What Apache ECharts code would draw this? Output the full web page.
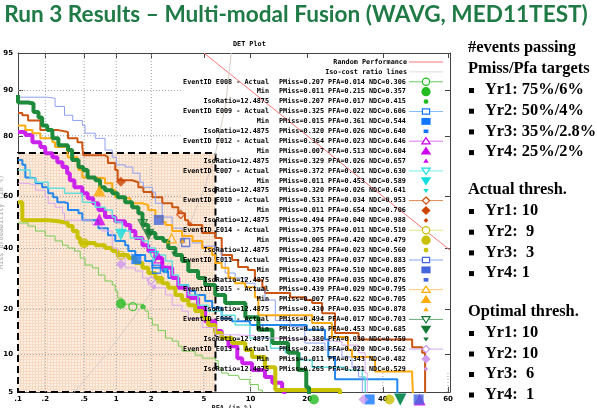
<!DOCTYPE html>
<html><head><meta charset="utf-8">
<script src="https://cdn.jsdelivr.net/npm/echarts@6/dist/echarts.min.js"></script>
<style>html,body{margin:0;padding:0;background:#fff}#c{width:597px;height:408px}</style>
</head><body><div id="c"></div>
<script>
// ---------------- data ----------------
const xTickPct = [0.1,0.2,0.5,1,2,5,10,20,40,60];
const xTickLabels = ['.1','.2','.5','1','2','5','10','20','40','60'];
const yTickPct = [5,10,20,40,60,80,90,95];
const yTickLabels = ['5','10','20','40','60','80','90','95'];

const eventIds    = ['E008','E009','E012','E007','E010','E014','E011','E015','E006','E013'];
const actualPmiss = [0.207,0.325,0.364,0.372,0.531,0.375,0.423,0.439,0.494,0.288];
const actualPfa   = [0.014,0.022,0.023,0.021,0.034,0.011,0.037,0.029,0.017,0.020];
const actualNdc   = [0.306,0.606,0.646,0.630,0.953,0.510,0.883,0.795,0.703,0.562];
const minPmiss    = [0.011,0.015,0.007,0.011,0.011,0.005,0.023,0.007,0.019,0.011];
const minPfa      = [0.215,0.361,0.513,0.453,0.654,0.420,0.510,0.622,0.453,0.343];
const minNdc      = [0.357,0.544,0.604,0.589,0.706,0.479,0.805,0.705,0.685,0.482];
const isoPmiss    = [0.207,0.320,0.329,0.320,0.494,0.284,0.430,0.430,0.380,0.265];
const isoPfa      = [0.017,0.026,0.026,0.026,0.040,0.023,0.035,0.035,0.030,0.021];
const isoNdc      = [0.415,0.640,0.657,0.641,0.988,0.560,0.876,0.878,0.759,0.529];
const isoRatio = 12.4875;

// DET curves: [PFA %, PMiss %]
const curveE008 = [[0.1,49.8],[0.13,48.6],[0.157,46.7],[0.2,44.8],[0.254,42.9],[0.303,41.3],[0.345,40.2],[0.40,39.1],[0.457,36.5],[0.51,34.0],[0.6,33.0],[0.685,30.5],[0.79,28.5],[0.92,27.2],[0.98,25.3],[1.03,23.2],[1.13,21.4],[1.69,20.9],[1.78,19.5],[1.89,17.6],[2.04,16.0],[2.27,14.7],[2.6,13.1],[2.93,12.5],[3.26,11.5],[3.48,10.6],[4.34,9.9],[4.87,9.4],[5.98,9.0],[6.26,7.9],[6.6,7.2],[7.3,6.9],[8.4,6.8],[8.6,6.4],[9.9,5.8],[11.1,5.2],[11.7,4.4]];
const curveE009 = [[0.1,72.8],[0.112,71.2],[0.121,66.9],[0.13,66.6],[0.157,64.8],[0.185,63.4],[0.215,61.2],[0.243,59.7],[0.268,57.8],[0.318,57.4],[0.345,54.8],[0.44,53.6],[0.48,50.9],[0.6,50.9],[0.685,47.8],[0.84,45.1],[0.98,42.9],[1.2,41.3],[1.28,39.1],[1.47,37.6],[1.78,35.4],[2.04,33.0],[2.45,31.9],[2.73,29.5],[3.26,27.2],[3.87,25.3],[4.34,24.1],[5.1,22.3],[5.7,20.4],[6.6,17.6],[7.7,16.9],[9.9,16.0],[19.9,14.9],[24.1,14.9],[24.1,12.8],[24.9,9.6],[26.6,8.0],[26.6,6.4],[44.4,6.4],[44.4,4.4]];
const curveE012 = [[0.1,81.0],[0.121,80.2],[0.145,78.2],[0.177,76.8],[0.2,74.9],[0.238,73.7],[0.268,72.1],[0.303,70.5],[0.338,68.4],[0.36,65.9],[0.40,63.4],[0.48,61.2],[0.54,59.3],[0.61,57.4],[0.685,54.8],[0.79,52.1],[0.98,50.5],[1.2,49.0],[1.33,46.7],[1.47,44.0],[1.69,41.3],[1.89,39.1],[2.16,36.5],[2.45,33.0],[2.93,29.5],[3.26,26.3],[3.87,23.2],[4.55,20.4],[5.1,16.9],[5.98,14.6],[6.6,13.1],[7.3,11.5],[8.3,9.4],[8.9,8.6],[10.2,7.6],[12.1,6.7],[13.3,6.0],[15.0,5.2],[15.4,4.4]];
const curveE007 = [[0.1,69.5],[0.137,66.6],[0.157,65.2],[0.215,63.0],[0.318,61.2],[0.48,57.8],[0.64,55.9],[0.79,54.8],[0.92,52.1],[0.98,50.2],[1.13,46.7],[1.33,44.0],[1.69,42.9],[1.89,40.2],[2.16,37.6],[2.6,35.4],[2.93,30.5],[3.26,27.2],[3.87,24.1],[4.55,21.1],[5.35,19.5],[6.6,18.4],[8.05,16.0],[9.9,13.1],[13.0,11.1],[15.6,10.3],[18.5,9.1],[21.1,8.0],[29.2,7.6],[34.0,6.7],[34.8,4.4]];
const curveE010 = [[0.1,85.6],[0.112,85.1],[0.13,83.9],[0.177,81.5],[0.275,81.0],[0.345,79.3],[0.43,78.2],[0.48,76.8],[0.49,74.3],[0.79,73.7],[0.84,71.8],[0.98,69.5],[1.03,65.9],[1.38,65.2],[1.56,63.4],[1.72,61.6],[2.04,59.7],[2.45,57.4],[2.93,55.9],[3.26,53.6],[3.66,50.9],[3.87,49.0],[4.87,45.9],[5.98,44.0],[6.6,37.6],[7.7,35.8],[8.4,33.3],[9.65,32.2],[10.6,28.8],[11.7,26.5],[12.1,24.7],[16.5,23.4],[19.5,22.6],[21.1,21.7],[23.4,18.9],[26.6,14.2],[32.9,12.8],[40.7,12.8],[49.0,11.3],[52.1,10.3],[53.0,8.0],[53.0,4.4]];
const curveE014 = [[0.1,57.8],[0.112,57.8],[0.112,50.9],[0.177,50.9],[0.215,50.5],[0.275,49.8],[0.345,48.6],[0.385,46.7],[0.43,44.0],[0.457,42.1],[0.64,41.3],[0.79,40.2],[0.92,39.1],[1.03,37.6],[1.28,36.5],[1.47,34.7],[1.69,33.0],[1.89,31.2],[2.16,29.5],[2.45,27.8],[2.73,26.3],[3.1,24.1],[3.48,22.6],[3.87,21.1],[4.34,19.5],[4.87,17.6],[5.35,16.0],[5.98,14.2],[6.6,13.1],[7.7,12.1],[9.3,10.8],[10.2,9.6],[12.1,8.0],[13.8,6.0],[13.8,5.2],[27.9,5.2],[27.9,4.4]];
const curveE011 = [[0.1,88.8],[0.21,88.6],[0.254,87.0],[0.318,85.1],[0.385,83.9],[0.48,82.7],[0.51,80.7],[0.64,79.3],[0.79,75.9],[0.92,73.7],[1.0,71.2],[1.2,70.5],[1.4,68.4],[1.61,65.2],[1.72,63.4],[2.04,61.6],[2.16,57.4],[2.45,52.1],[2.93,47.8],[3.48,44.8],[4.15,42.1],[4.87,40.9],[5.98,39.5],[6.6,36.5],[6.95,31.2],[8.05,29.5],[9.3,27.8],[10.6,25.6],[12.1,22.6],[13.8,17.1],[16.5,15.6],[19.5,12.1],[24.1,10.8],[28.4,9.6],[31.1,8.0],[32.9,6.7],[34.0,4.4]];
const curveE015 = [[0.1,82.7],[0.121,81.5],[0.145,80.7],[0.177,79.3],[0.238,78.2],[0.254,76.8],[0.338,75.9],[0.345,73.7],[0.43,71.8],[0.44,69.5],[0.48,66.9],[0.6,66.6],[0.79,64.8],[0.92,62.3],[0.98,59.7],[1.13,59.3],[1.33,57.4],[1.69,56.7],[1.89,54.8],[2.16,52.1],[2.45,50.2],[2.6,49.0],[2.93,46.7],[3.48,44.8],[4.15,42.9],[4.87,40.2],[5.7,37.6],[5.98,34.7],[6.6,33.0],[7.3,29.5],[8.05,27.8],[9.3,26.5],[10.6,23.4],[11.1,18.4],[20.0,18.4],[21.1,16.5],[25.8,13.3],[30.0,10.8],[31.1,9.6],[36.8,9.1],[37.7,7.4],[49.0,6.7],[49.3,4.4]];
const curveE006 = [[0.1,89.2],[0.1,87.8],[0.13,87.6],[0.149,85.8],[0.169,84.6],[0.185,82.7],[0.21,81.5],[0.238,79.3],[0.275,77.3],[0.345,75.9],[0.38,72.8],[0.44,70.5],[0.49,69.5],[0.54,66.9],[0.64,65.9],[0.71,63.4],[0.79,62.3],[0.92,61.2],[1.03,59.7],[1.2,57.8],[1.38,55.9],[1.56,53.6],[1.69,50.2],[1.72,49.0],[1.89,45.9],[2.16,44.0],[2.5,42.9],[2.73,40.2],[3.1,37.6],[3.48,35.4],[3.87,31.9],[4.55,29.5],[5.1,27.2],[5.98,24.1],[6.95,21.7],[9.3,17.9],[11.1,14.9],[13.3,12.1],[16.1,10.3],[18.1,7.6],[19.8,5.5],[20.4,4.4]];
const curveE013 = [[0.1,64.8],[0.13,64.1],[0.157,62.3],[0.2,59.7],[0.215,57.4],[0.254,55.9],[0.303,53.6],[0.318,50.9],[0.51,50.9],[0.6,49.0],[0.74,46.7],[0.92,40.2],[1.03,36.5],[1.2,33.0],[1.47,31.9],[1.69,29.5],[1.89,27.2],[2.16,26.3],[2.6,24.1],[2.93,21.1],[3.48,19.5],[3.87,17.6],[4.87,15.4],[5.98,13.8],[7.7,13.6],[10.6,13.1],[15.0,12.8],[20.0,12.4],[28.4,11.7],[32.9,10.3],[34.8,7.2],[35.4,4.4]];

const randomPfa = [5, 60.6];
const isoLinePfa = [0.38,0.5,0.7,1,1.5,2,3,4,5,6,7,7.61];
const targetPmiss = 75, targetPfa = 6;

const targetLabels  = ['Yr1: 75%/6%','Yr2: 50%/4%','Yr3: 35%/2.8%','Yr4: 25%/2%'];
const actualThresh  = ['Yr1: 10','Yr2:  9','Yr3:  3','Yr4: 1'];
const optimalThresh = ['Yr1: 10','Yr2: 10','Yr3:  6','Yr4:  1'];

// ---------------- styles ----------------
const curves = [curveE008,curveE009,curveE012,curveE007,curveE010,curveE014,curveE011,curveE015,curveE006,curveE013];
const curveColors  = ['#77cc55','#2288ee','#cc22ee','#66dddd','#cc5511','#c8c200','#8fa0ee','#ffaa11','#1e8a3c','#d8a8f0'];
const curveWidths  = [1,2,4,1.5,2,4,1,2,4,1];
const markerColors = ['#22bb22','#1177ff','#cc00ee','#11dddd','#cc4400','#c8c000','#4466dd','#ffaa00','#117733','#cc99ee'];
const legendLineColors = ['#66cc66','#88bbff','#dd77ff','#77eeee','#dd8855','#e6e680','#88aaee','#ffcc77','#66aa77','#ccaaee'];
const shapes = ['circle','rect','triangle','down','diamond','circle','rect','triangle','down','diamond'];

function probit(p){
  const a=[-3.969683028665376e+01,2.209460984245205e+02,-2.759285104469687e+02,1.383577518672690e+02,-3.066479806614716e+01,2.506628277459239e+00];
  const b=[-5.447609879822406e+01,1.615858368580409e+02,-1.556989798598866e+02,6.680131188771972e+01,-1.328068155288572e+01];
  const c=[-7.784894002430293e-03,-3.223964580411365e-01,-2.400758277161838e+00,-2.549732539343734e+00,4.374664141464968e+00,2.938163982698783e+00];
  const d=[7.784695709041462e-03,3.224671290700398e-01,2.445134137142996e+00,3.754408661907416e+00];
  const pl=0.02425, ph=1-pl; let q,r;
  if(p<pl){q=Math.sqrt(-2*Math.log(p));return (((((c[0]*q+c[1])*q+c[2])*q+c[3])*q+c[4])*q+c[5])/((((d[0]*q+d[1])*q+d[2])*q+d[3])*q+1);}
  if(p<=ph){q=p-0.5;r=q*q;return (((((a[0]*r+a[1])*r+a[2])*r+a[3])*r+a[4])*r+a[5])*q/(((((b[0]*r+b[1])*r+b[2])*r+b[3])*r+b[4])*r+1);}
  q=Math.sqrt(-2*Math.log(1-p));return -(((((c[0]*q+c[1])*q+c[2])*q+c[3])*q+c[4])*q+c[5])/((((d[0]*q+d[1])*q+d[2])*q+d[3])*q+1);
}
const T = pct => probit(pct/100);
const P = (pfa, pmiss) => [T(pfa), T(pmiss)];
const XMIN = 0.1, XMAX = 60.6, YMIN = 5, YMAX = 95;
const keyPfa = 3.4, keyPmiss = 7.2;   // legend box (grid lines skip it)
const bottomPmiss = 4.3;              // clipped display row for off-range points

function fmtLookup(pcts, labels){
  return v => { const i = pcts.findIndex(p => Math.abs(T(p) - v) < 1e-6); return i >= 0 ? labels[i] : ''; };
}
const symOf = s => s === 'down' ? 'triangle' : s;
const rotOf = s => s === 'down' ? 180 : 0;

// pattern for shaded target region
const pc = document.createElement('canvas'); pc.width = 3; pc.height = 3;
const pctx = pc.getContext('2d');
pctx.fillStyle = '#fdeee2'; pctx.fillRect(0,0,3,3);
pctx.fillStyle = '#f8d9c2'; pctx.fillRect(0,2,3,1); pctx.fillRect(2,0,1,3);

const axisFont = {fontSize:7, fontWeight:'bold', fontFamily:'DejaVu Sans', color:'#000'};
function mkX(pos, showLabel){
  return {type:'value', position:pos, min:T(XMIN), max:T(XMAX),
    axisLine:{show:true, onZero:false, lineStyle:{color:'#444', width:1}},
    axisTick:{show:true, inside:true, length:5, customValues:xTickPct.map(T), lineStyle:{color:'#444'}},
    axisLabel:Object.assign({show:showLabel, customValues:xTickPct.map(T), formatter:fmtLookup(xTickPct,xTickLabels), margin:4}, axisFont),
    splitLine:{show:false}};
}
function mkY(pos, showLabel){
  return {type:'value', position:pos, min:T(YMIN), max:T(YMAX),
    axisLine:{show:true, onZero:false, lineStyle:{color:'#444', width:1}},
    axisTick:{show:true, inside:true, length:5, customValues:yTickPct.map(T), lineStyle:{color:'#444'}},
    axisLabel:Object.assign({show:showLabel, customValues:yTickPct.map(T), formatter:fmtLookup(yTickPct,yTickLabels), margin:5}, axisFont),
    splitLine:{show:false}};
}

const series = [];
// target region
series.push({type:'line', data:[], silent:true, z:1, symbol:'none',
  markArea:{silent:true, itemStyle:{color:{image:pc, repeat:'repeat'}, borderColor:'#000', borderWidth:2, borderType:[7,4]},
    data:[[{coord:P(XMIN,YMIN)},{coord:P(targetPfa,targetPmiss)}]]}});
// grid lines
const gridStyle = {color:'#a0a0a0', width:1, type:[1,2]};
xTickPct.slice(1).forEach(p => {
  const top = p < keyPfa ? YMAX : keyPmiss;
  series.push({type:'line', silent:true, z:2, symbol:'none', data:[P(p,YMIN),P(p,top)], lineStyle:gridStyle});
});
yTickPct.slice(1,-1).forEach(p => {
  const right = p > keyPmiss ? keyPfa : XMAX;
  series.push({type:'line', silent:true, z:2, symbol:'none', data:[P(XMIN,p),P(right,p)], lineStyle:gridStyle});
});
// random performance & iso-cost line
series.push({type:'line', silent:true, z:3, symbol:'none', data:randomPfa.map(f => P(f, 100 - f)), lineStyle:{color:'#ff7777', width:1}});
series.push({type:'line', silent:true, z:3, symbol:'none', data:isoLinePfa.map(f => P(f, isoRatio*f)), lineStyle:{color:'#d8cdc6', width:1}});
// DET curves
curves.forEach((cv, i) => {
  series.push({type:'line', silent:true, z:4, symbol:'none', step:'end', data:cv.map(([f,m]) => P(f,m)),
    lineStyle:{color:curveColors[i], width:curveWidths[i]}});
});
// markers
const actualPts = [], minPts = [], minBottom = [], isoPts = [];
eventIds.forEach((id, i) => {
  const s = symOf(shapes[i]), r = rotOf(shapes[i]), c = markerColors[i];
  actualPts.push({value:P(actualPfa[i]*100, actualPmiss[i]*100), symbol:s, symbolRotate:r, symbolSize:s==='triangle'?9:8,
    itemStyle:{color:'rgba(255,255,255,0)', borderColor:c, borderWidth:1.3}});
  minPts.push({value:P(minPmiss[i]*100, minPfa[i]*100), symbol:s, symbolRotate:r, symbolSize:s==='triangle'?12:10, itemStyle:{color:c}});
  if (minPfa[i]*100 <= XMAX) minBottom.push({value:[T(minPfa[i]*100), T(bottomPmiss)], symbol:s, symbolRotate:r, symbolSize:s==='triangle'?12:10, itemStyle:{color:c}});
  isoPts.push({value:P(isoPfa[i]*100, isoPmiss[i]*100), symbol:s, symbolRotate:r, symbolSize:5, itemStyle:{color:c}});
});
series.push({type:'scatter', silent:true, z:6, data:actualPts});
series.push({type:'scatter', silent:true, z:6, data:minPts});
series.push({type:'scatter', silent:true, z:6, clip:false, data:minBottom});
series.push({type:'scatter', silent:true, z:6, data:isoPts});

// ---------------- graphic: legend & texts ----------------
const G = [];
const mono = 'bold 6.8px "DejaVu Sans Mono"';
function txt(x, y, text, font, fill, align){
  G.push({type:'text', x:x, y:y, z:50, silent:true, style:{text:text, font:font, fill:fill||'#000', align:align||'left', verticalAlign:'middle'}});
}
function seg(x1, x2, y, color, w){
  G.push({type:'line', z:49, silent:true, shape:{x1:x1, y1:y, x2:x2, y2:y}, style:{stroke:color, lineWidth:w||1}});
}
function sym(shape, cx, cy, r, fill, stroke){
  const style = {fill:fill || 'rgba(0,0,0,0)', stroke:stroke || null, lineWidth:stroke ? 1.2 : 0};
  let el;
  if (shape === 'circle') el = {type:'circle', shape:{cx:cx, cy:cy, r:r}};
  else if (shape === 'rect') el = {type:'rect', shape:{x:cx-r, y:cy-r*0.75, width:2*r, height:1.5*r}};
  else if (shape === 'triangle') el = {type:'polygon', shape:{points:[[cx,cy-r],[cx+r*1.15,cy+r*0.75],[cx-r*1.15,cy+r*0.75]]}};
  else if (shape === 'down') el = {type:'polygon', shape:{points:[[cx,cy+r],[cx+r*1.15,cy-r*0.75],[cx-r*1.15,cy-r*0.75]]}};
  else el = {type:'polygon', shape:{points:[[cx,cy-r],[cx+r,cy],[cx,cy+r],[cx-r,cy]]}};
  el.style = style; el.z = 51; el.silent = true; G.push(el);
}
const rowY = i => 62 + i*9.9;
const keyX1 = 269, keyX2 = 279, keyX3 = 407, lnA = 409, lnB = 443, mkX0 = 426;
txt(keyX3, rowY(0), 'Random Performance', mono, '#000', 'right'); seg(lnA, lnB, rowY(0), '#ff7777', 1);
txt(keyX3, rowY(1), 'Iso-cost ratio lines', mono, '#000', 'right'); seg(lnA, lnB, rowY(1), '#dddddd', 1);
const stat = (m,f,n) => 'PMiss=' + m.toFixed(3) + ' PFA=' + f.toFixed(3) + ' NDC=' + n.toFixed(3);
eventIds.forEach((id, i) => {
  const r0 = 2 + 3*i;
  txt(keyX1, rowY(r0), 'EventID ' + id + ' - Actual', mono, '#000', 'right');
  txt(keyX2, rowY(r0), stat(actualPmiss[i], actualPfa[i], actualNdc[i]), mono);
  seg(lnA, lnB, rowY(r0), legendLineColors[i], 1);
  sym(shapes[i], mkX0, rowY(r0), 3.6, '#fff', markerColors[i]);
  txt(keyX1, rowY(r0+1), 'Min', mono, '#000', 'right');
  txt(keyX2, rowY(r0+1), stat(minPmiss[i], minPfa[i], minNdc[i]), mono);
  sym(shapes[i], mkX0, rowY(r0+1), 4.6, markerColors[i]);
  txt(keyX1, rowY(r0+2), 'IsoRatio=12.4875', mono, '#000', 'right');
  txt(keyX2, rowY(r0+2), stat(isoPmiss[i], isoPfa[i], isoNdc[i]), mono);
  sym(shapes[i], mkX0, rowY(r0+2), 2.4, markerColors[i]);
});
txt(233, 44, 'DET Plot', mono);
txt(232, 408, 'PFA (in %)', mono, '#222', 'center');
G.push({type:'text', x:1, y:222, rotation:Math.PI/2, z:50, silent:true, style:{text:'Miss probability (in %)', font:mono, fill:'#bbb', align:'center', verticalAlign:'middle'}});

// title
txt(296, 15, 'Run 3 Results \u2013 Multi-modal Fusion (WAVG, MED11TEST)', 'bold 22.6px Lato', '#1f7a45', 'center');

// right panel
const serif = 'bold 16.4px "Liberation Serif"';
function bullet(y, text){
  G.push({type:'rect', z:50, silent:true, shape:{x:469, y:y-2, width:5, height:5}, style:{fill:'#000'}});
  txt(485, y, text, serif);
}
txt(468, 48, '#events passing', serif);
txt(468, 69, 'Pmiss/Pfa targets', serif);
targetLabels.forEach((t, k) => bullet(90 + k*20.7, t));
txt(468, 190, 'Actual thresh.', serif);
actualThresh.forEach((t, k) => bullet(211 + k*20.7, t));
txt(468, 312, 'Optimal thresh.', serif);
optimalThresh.forEach((t, k) => bullet(333 + k*20.5, t));

const chart = echarts.init(document.getElementById('c'), null, {renderer:'canvas'});
chart.setOption({
  animation:false,
  backgroundColor:'#fff',
  grid:{left:18, right:147, top:53, bottom:16, containLabel:false, outerBoundsMode:'none'},
  xAxis:[mkX('bottom', true), mkX('top', false)],
  yAxis:[mkY('left', true), mkY('right', false)],
  series:series,
  graphic:{elements:G}
});
</script>
</body></html>
